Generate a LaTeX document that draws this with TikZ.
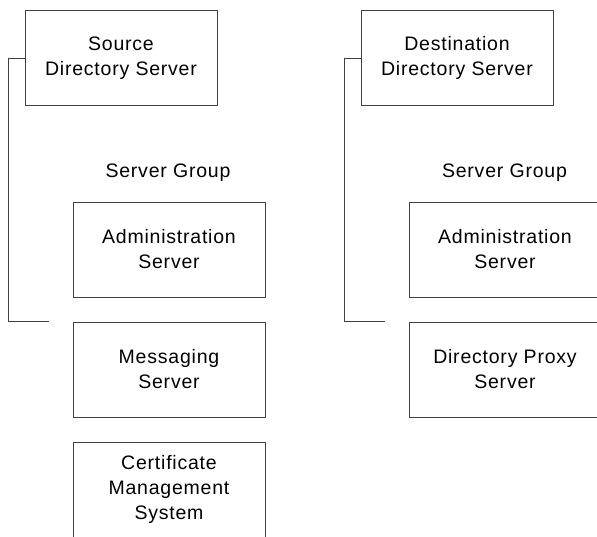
\documentclass[tikz,border=0pt]{standalone}
\usepackage{fontspec}
\setmainfont{Liberation Sans}[LetterSpace=4]
\usetikzlibrary{positioning}

\begin{document}
\begin{tikzpicture}[x=1pt,y=-1pt,
  srvbox/.style={draw=black!75,line width=1pt,minimum width=192pt,minimum height=95pt,
    inner sep=0pt,align=center,font=\fontsize{19.5}{25}\selectfont},
  grplabel/.style={inner sep=0pt,anchor=base,font=\fontsize{19.5}{25}\selectfont},
  link/.style={draw=black!75,line width=1pt}]
\clip (0,0) rectangle (597,536);
\useasboundingbox (0,0) rectangle (597,536);
% source side
\node[srvbox] (src) at (121,58) {Source\\Directory Server};
\node[grplabel] (srcgrp) at (168,177) {Server Group};
\node[srvbox] (srcadm) at (169,249.5) {Administration\\Server};
\node[srvbox] (msg) at (169,369.5) {Messaging\\Server};
\node[srvbox] (cms) at (169,489.5) {Certificate\\Management\\System};
\coordinate (srcend) at (49,321);
\draw[link] (src.west) -- ++(-16,0) |- (srcend);
% destination side
\node[srvbox] (dst) at (457,58) {Destination\\Directory Server};
\node[grplabel] (dstgrp) at (504.5,177) {Server Group};
\node[srvbox] (dstadm) at (505,249.5) {Administration\\Server};
\node[srvbox] (proxy) at (505,369.5) {Directory Proxy\\Server};
\coordinate (dstend) at (385,321);
\draw[link] (dst.west) -- ++(-16,0) |- (dstend);
\end{tikzpicture}
\end{document}
